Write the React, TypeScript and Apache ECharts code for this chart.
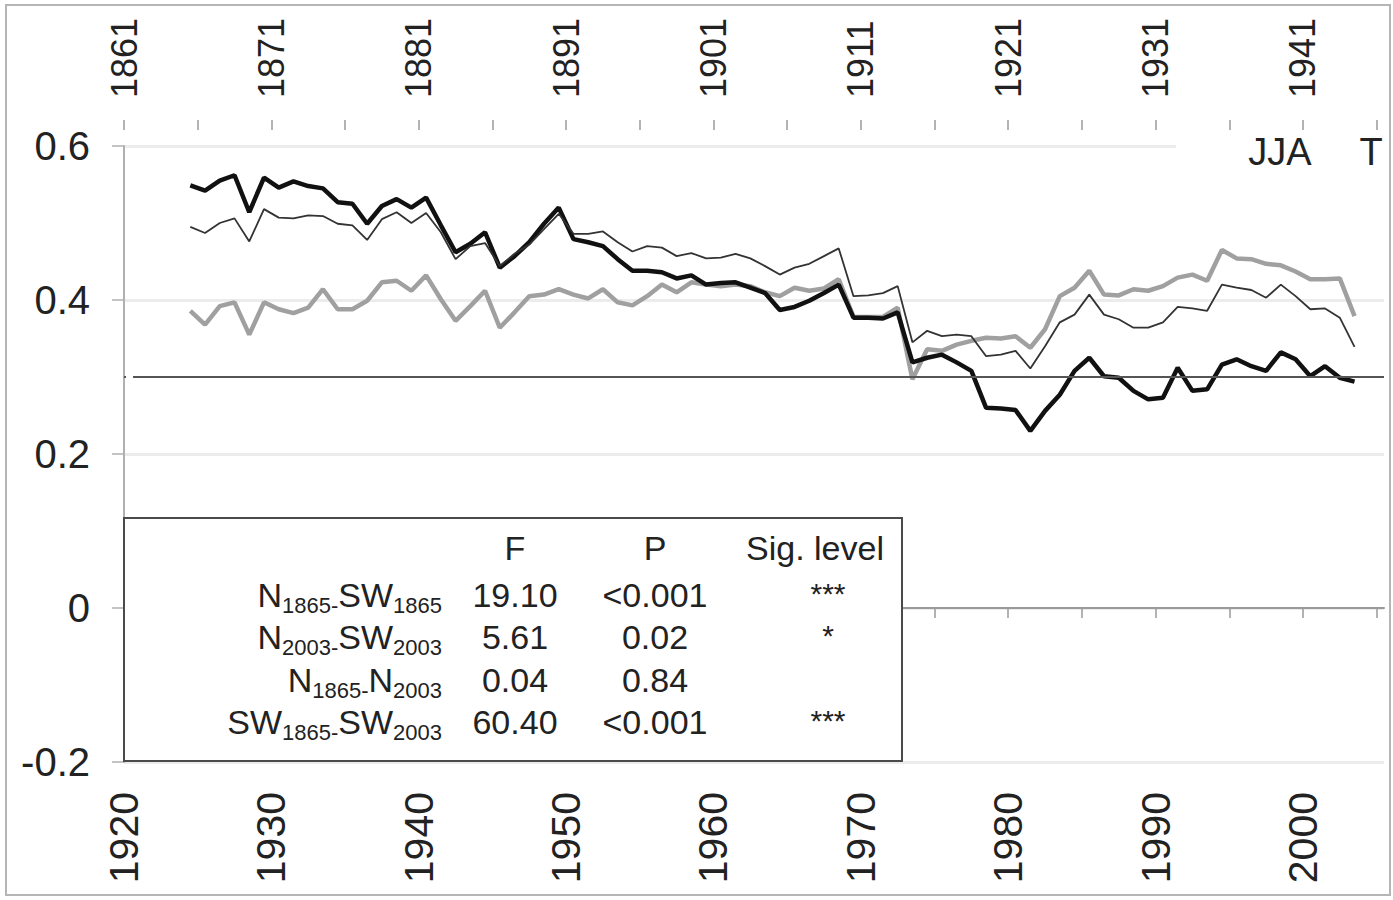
import React, { useEffect, useRef } from "react";
import * as echarts from "echarts";

// ---------- data ----------
const firstYear = 1924;
const thickBlack = [
  0.549, 0.542, 0.555, 0.562, 0.514, 0.559, 0.546, 0.554, 0.548, 0.545,
  0.527, 0.525, 0.499, 0.522, 0.531, 0.52, 0.533, 0.497, 0.462, 0.473,
  0.488, 0.442, 0.457, 0.475, 0.499, 0.52, 0.479, 0.475, 0.47, 0.453,
  0.438, 0.438, 0.436, 0.428, 0.432, 0.42, 0.422, 0.423, 0.416, 0.409,
  0.387, 0.391, 0.399, 0.409, 0.42, 0.377, 0.377, 0.376, 0.384, 0.319,
  0.325, 0.329, 0.319, 0.308, 0.26, 0.259, 0.257, 0.23, 0.256, 0.277,
  0.308, 0.325, 0.301, 0.299, 0.282, 0.271, 0.273, 0.312, 0.282, 0.284,
  0.316, 0.323, 0.314, 0.308, 0.332, 0.323, 0.301, 0.314, 0.299, 0.294,
];
const thinBlack = [
  0.495, 0.487, 0.5, 0.506, 0.476, 0.518, 0.507, 0.506, 0.51, 0.509,
  0.499, 0.497, 0.478, 0.505, 0.514, 0.5, 0.513, 0.488, 0.453, 0.47,
  0.474, 0.444, 0.46, 0.472, 0.492, 0.512, 0.486, 0.486, 0.489, 0.475,
  0.463, 0.47, 0.468, 0.457, 0.461, 0.454, 0.455, 0.46, 0.454, 0.444,
  0.433, 0.442, 0.447, 0.457, 0.467, 0.405, 0.406, 0.409, 0.418, 0.345,
  0.36, 0.353, 0.355, 0.353, 0.327, 0.329, 0.334, 0.311, 0.34, 0.371,
  0.381, 0.407, 0.381, 0.375, 0.364, 0.364, 0.371, 0.391, 0.389, 0.386,
  0.42, 0.416, 0.413, 0.403, 0.42, 0.405, 0.388, 0.389, 0.377, 0.339,
];
const grayLine = [
  0.386, 0.368, 0.392, 0.397, 0.355, 0.397, 0.388, 0.383, 0.39, 0.414,
  0.388, 0.388, 0.399, 0.423, 0.425, 0.412, 0.432, 0.401, 0.373, 0.392,
  0.412, 0.364, 0.384, 0.405, 0.407, 0.414, 0.407, 0.402, 0.414, 0.397,
  0.393, 0.405, 0.42, 0.41, 0.423, 0.42, 0.418, 0.42, 0.418, 0.41,
  0.405, 0.416, 0.412, 0.415, 0.427, 0.378, 0.378, 0.378, 0.39, 0.297,
  0.336, 0.334, 0.342, 0.347, 0.351, 0.35, 0.353, 0.338, 0.362, 0.405,
  0.416, 0.438, 0.407, 0.406, 0.414, 0.412, 0.418, 0.429, 0.433, 0.425,
  0.465, 0.454, 0.453, 0.447, 0.445, 0.437, 0.427, 0.427, 0.428, 0.379,
];
const threshold = 0.3;

const bottomTicks = [1920, 1925, 1930, 1935, 1940, 1945, 1950, 1955, 1960, 1965, 1970, 1975, 1980, 1985, 1990, 1995, 2000, 2005];
const bottomLabels = [1920, 1930, 1940, 1950, 1960, 1970, 1980, 1990, 2000];
const topTicks = [1861, 1866, 1871, 1876, 1881, 1886, 1891, 1896, 1901, 1906, 1911, 1916, 1921, 1926, 1931, 1936, 1941, 1946];
const topLabels = [1861, 1871, 1881, 1891, 1901, 1911, 1921, 1931, 1941];
const yTicks = [-0.2, 0, 0.2, 0.4, 0.6];

const pairLabels = [
  ["N", "1865", "SW", "1865"],
  ["N", "2003", "SW", "2003"],
  ["N", "1865", "N", "2003"],
  ["SW", "1865", "SW", "2003"],
];
const fValues = ["19.10", "5.61", "0.04", "60.40"];
const pValues = ["<0.001", "0.02", "0.84", "<0.001"];
const sigLevels = ["***", "*", "", "***"];
const tableHeader = ["F", "P", "Sig. level"];
const seasonLabel = "JJA";
const variableLabel = "T";

const FONT = "'Liberation Sans', Arial, Helvetica, sans-serif";
const TXT = "#222";

export default function App() {
  const ref = useRef<HTMLDivElement>(null);
  useEffect(() => {
    if (!ref.current) return;
    const chart = echarts.init(ref.current, null, { renderer: "svg" });
    const toPts = (vals: number[]) => vals.map((v, i) => [firstYear + i + 0.5, v]);

    const rowY = [595, 637, 680, 722];
    const graphics: any[] = [
      {
        type: "rect",
        z: 100,
        shape: { x: 6, y: 5, width: 1384, height: 890 },
        style: { fill: "none", stroke: "#b5b5b5", lineWidth: 2 },
      },
      {
        type: "rect",
        z: 100,
        shape: { x: 1176, y: 134, width: 210, height: 36 },
        style: { fill: "#fff" },
      },
      {
        type: "rect",
        z: 100,
        shape: { x: 126, y: 370, width: 7, height: 12 },
        style: { fill: "#fff" },
      },
      {
        type: "text",
        z: 101,
        style: { text: seasonLabel, x: 1280, y: 152, align: "center", verticalAlign: "middle", fontSize: 38, fontFamily: FONT, fill: TXT },
      },
      {
        type: "text",
        z: 101,
        style: { text: variableLabel, x: 1371, y: 152, align: "center", verticalAlign: "middle", fontSize: 38, fontFamily: FONT, fill: TXT },
      },
      {
        type: "rect",
        z: 100,
        shape: { x: 124, y: 518, width: 778, height: 243 },
        style: { fill: "#fff", stroke: "#4a4a4a", lineWidth: 2 },
      },
    ];
    const colX = [515, 655, 815];
    tableHeader.forEach((h, i) => {
      graphics.push({
        type: "text",
        z: 101,
        style: { text: h, x: colX[i], y: 548, align: "center", verticalAlign: "middle", fontSize: 34, fontFamily: FONT, fill: TXT },
      });
    });
    pairLabels.forEach((p, i) => {
      graphics.push({
        type: "text",
        z: 101,
        style: {
          text: `{m|${p[0]}}{s|${p[1]}-}{m|${p[2]}}{s|${p[3]}}`,
          x: 442,
          y: rowY[i],
          align: "right",
          verticalAlign: "middle",
          fontFamily: FONT,
          fill: TXT,
          rich: {
            m: { fontSize: 34, lineHeight: 42, fontFamily: FONT, fill: TXT, verticalAlign: "middle" },
            s: { fontSize: 22, lineHeight: 22, fontFamily: FONT, fill: TXT, verticalAlign: "bottom" },
          },
        },
      });
      graphics.push({
        type: "text",
        z: 101,
        style: { text: fValues[i], x: 515, y: rowY[i], align: "center", verticalAlign: "middle", fontSize: 34, fontFamily: FONT, fill: TXT },
      });
      graphics.push({
        type: "text",
        z: 101,
        style: { text: pValues[i], x: 655, y: rowY[i], align: "center", verticalAlign: "middle", fontSize: 34, fontFamily: FONT, fill: TXT },
      });
      if (sigLevels[i]) {
        graphics.push({
          type: "text",
          z: 101,
          style: { text: sigLevels[i], x: 828, y: rowY[i] - 2, align: "center", verticalAlign: "middle", fontSize: 30, fontFamily: FONT, fill: TXT },
        });
      }
    });

    chart.setOption({
      animation: false,
      backgroundColor: "#fff",
      grid: { left: 124, right: 9, top: 146, bottom: 138, containLabel: false },
      xAxis: [
        {
          type: "value",
          position: "bottom",
          min: 1920,
          max: 2005.5,
          splitLine: { show: false },
          axisLine: { show: true, lineStyle: { color: "#9a9a9a", width: 2 } },
          axisTick: { show: true, customValues: bottomTicks, length: 10, lineStyle: { color: "#9a9a9a", width: 1.5 } },
          axisLabel: {
            customValues: bottomLabels,
            rotate: 90,
            margin: 30,
            fontSize: 41,
            fontFamily: FONT,
            color: TXT,
            formatter: (v: number) => String(v),
          },
        },
        {
          type: "value",
          position: "top",
          offset: 16,
          min: 1861,
          max: 1946.5,
          splitLine: { show: false },
          axisLine: { show: false },
          axisTick: { show: true, customValues: topTicks, length: 10, lineStyle: { color: "#9a9a9a", width: 1.5 } },
          axisLabel: {
            customValues: topLabels,
            rotate: -90,
            margin: 32,
            fontSize: 36,
            fontFamily: FONT,
            color: TXT,
            formatter: (v: number) => String(v),
          },
        },
      ],
      yAxis: {
        type: "value",
        min: -0.2,
        max: 0.6,
        interval: 0.2,
        axisLine: { show: true, lineStyle: { color: "#b0b0b0", width: 2 } },
        axisTick: { show: true, customValues: yTicks, length: 12, lineStyle: { color: "#b0b0b0", width: 1.5 } },
        splitLine: { show: true, lineStyle: { color: "#ececec", width: 3 } },
        axisLabel: {
          margin: 34,
          fontSize: 40,
          fontFamily: FONT,
          color: TXT,
          formatter: (v: number) => String(Math.round(v * 10) / 10),
        },
      },
      series: [
        {
          type: "line",
          name: "gray",
          data: toPts(grayLine),
          showSymbol: false,
          lineStyle: { color: "#a0a0a0", width: 4.5 },
          z: 2,
        },
        {
          type: "line",
          name: "thick",
          data: toPts(thickBlack),
          showSymbol: false,
          lineStyle: { color: "#111", width: 4.5 },
          z: 3,
          markLine: {
            silent: true,
            symbol: "none",
            label: { show: false },
            lineStyle: { color: "#555", width: 2, type: "solid" },
            data: [{ yAxis: threshold }],
          },
        },
        {
          type: "line",
          name: "thin",
          data: toPts(thinBlack),
          showSymbol: false,
          lineStyle: { color: "#333", width: 1.8 },
          z: 4,
        },
      ],
      graphic: graphics,
    });
    return () => chart.dispose();
  }, []);
  return (
    <div
      ref={ref}
      style={{ position: "absolute", left: 0, top: 0, width: 1393, height: 900, background: "#fff" }}
    />
  );
}
